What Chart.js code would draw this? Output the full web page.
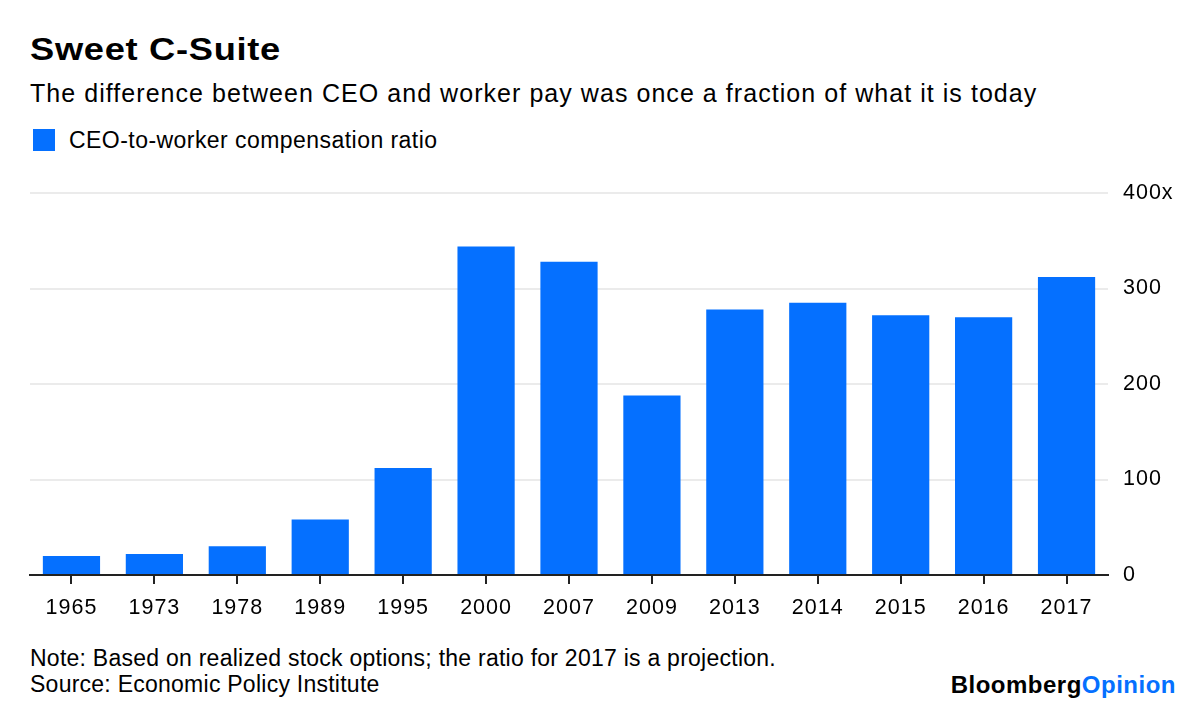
<!DOCTYPE html>
<html>
<head>
<meta charset="utf-8">
<script src="https://cdn.jsdelivr.net/npm/chart.js@4/dist/chart.umd.min.js"></script>
<style>
  html, body { margin:0; padding:0; background:#fff; }
  body { width:1200px; height:710px; position:relative; overflow:hidden; font-family:"Liberation Sans", Arial, sans-serif; color:#000; }
  .t { position:absolute; white-space:nowrap; line-height:normal; }
  #title { left:30px; top:32px; font-size:31px; font-weight:bold; letter-spacing:0.6px; transform:scaleX(1.17); transform-origin:0 0; }
  #subtitle { left:30px; top:79px; font-size:25px; letter-spacing:1.05px; }
  #sw { position:absolute; left:33px; top:129px; width:22px; height:22px; background:#0570ff; }
  #legtext { left:69px; top:127px; font-size:23px; letter-spacing:0.45px; }
  #note { left:30px; top:645px; font-size:23px; line-height:26px; letter-spacing:0.25px; }
  #logo { right:24px; top:671px; font-size:24px; font-weight:bold; letter-spacing:0.5px; }
  #logo span { color:#0570ff; }
  #wrap { position:absolute; left:0; top:150px; width:1200px; height:480px; }
</style>
</head>
<body>
<div id="title" class="t">Sweet C-Suite</div>
<div id="subtitle" class="t">The difference between CEO and worker pay was once a fraction of what it is today</div>
<div id="sw"></div>
<div id="legtext" class="t">CEO-to-worker compensation ratio</div>
<div id="wrap"><canvas id="c" width="1200" height="480"></canvas></div>
<div id="note" class="t">Note: Based on realized stock options; the ratio for 2017 is a projection.<br>Source: Economic Policy Institute</div>
<div id="logo" class="t">Bloomberg<span>Opinion</span></div>
<script>
const years = ["1965","1973","1978","1989","1995","2000","2007","2009","2013","2014","2015","2016","2017"];
const ratio = [20, 22, 30, 58, 112, 344, 328, 188, 278, 285, 272, 270, 312];
const yTicks = [0, 100, 200, 300, 400];

const spacingPlugin = {
  id: 'spacing',
  beforeDraw(chart) { chart.ctx.letterSpacing = '1px'; }
};

new Chart(document.getElementById('c'), {
  type: 'bar',
  data: {
    labels: years,
    datasets: [{
      label: 'CEO-to-worker compensation ratio',
      data: ratio,
      backgroundColor: '#0570ff',
      borderWidth: 0,
      barPercentage: 0.69,
      categoryPercentage: 1.0
    }]
  },
  plugins: [spacingPlugin],
  options: {
    responsive: false,
    animation: false,
    devicePixelRatio: 1,
    layout: { padding: { top: 43, left: 30, right: 0, bottom: 0 } },
    plugins: { legend: { display: false }, tooltip: { enabled: false }, title: { display: false } },
    scales: {
      x: {
        offset: true,
        afterFit: (s) => { s.height = 55; },
        grid: { offset: false, drawOnChartArea: false, drawTicks: true, tickLength: 9, color: '#222', lineWidth: 2 },
        border: { display: true, color: '#222', width: 2 },
        ticks: { color: '#000', font: { family: '"Liberation Sans", Arial, sans-serif', size: 21.5 }, padding: 11, maxRotation: 0, autoSkip: false }
      },
      y: {
        position: 'right',
        min: 0, max: 400,
        afterFit: (s) => { s.width = 92; },
        afterBuildTicks: (s) => { s.ticks = yTicks.map(v => ({ value: v })); },
        grid: { drawTicks: false, lineWidth: 2, color: (ctx) => (ctx.tick && ctx.tick.value === 0) ? 'rgba(0,0,0,0)' : '#ebebeb' },
        border: { display: false },
        ticks: {
          color: '#000', padding: 15,
          font: { family: '"Liberation Sans", Arial, sans-serif', size: 21.5 },
          callback: (v) => v === 400 ? '400x' : String(v)
        }
      }
    }
  }
});
</script>
</body>
</html>
